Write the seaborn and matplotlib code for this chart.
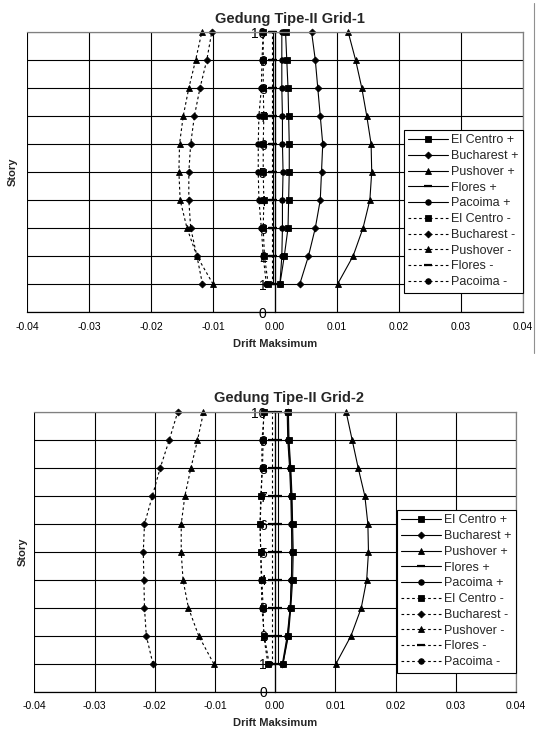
import matplotlib
matplotlib.use("Agg")
import matplotlib.pyplot as plt
from matplotlib.lines import Line2D
import numpy as np
import pandas as pd
import seaborn as sns

# ---------------- data ----------------
stories = [1, 2, 3, 4, 5, 6, 7, 8, 9, 10]
series_names = ["El Centro +", "Bucharest +", "Pushover +", "Flores +", "Pacoima +",
                "El Centro -", "Bucharest -", "Pushover -", "Flores -", "Pacoima -"]
titles = ["Gedung Tipe-II Grid-1", "Gedung Tipe-II Grid-2"]
x_label = "Drift Maksimum"
y_label = "Story"
x_ticks = [-0.04, -0.03, -0.02, -0.01, 0.0, 0.01, 0.02, 0.03, 0.04]
x_tick_labels = ["-0.04", "-0.03", "-0.02", "-0.01", "0.00", "0.01", "0.02", "0.03", "0.04"]
y_ticks = [0, 1, 2, 3, 4, 5, 6, 7, 8, 9, 10]

# Grid-1 (stories 1..10)
g1_elcentro_pos = [0.0008, 0.0015, 0.0021, 0.0022, 0.0023, 0.0023, 0.0022, 0.0021, 0.0019, 0.0017]
g1_bucharest_pos = [0.0040, 0.0054, 0.0065, 0.0073, 0.0075, 0.0077, 0.0073, 0.0069, 0.0065, 0.0059]
g1_pushover_pos = [0.0101, 0.0126, 0.0142, 0.0153, 0.0156, 0.0155, 0.0148, 0.0140, 0.0130, 0.0118]
g1_flores_pos = [-0.0003, -0.0003, -0.0003, -0.0003, -0.0003, -0.0003, -0.0003, -0.0003, -0.0003, -0.0003]
g1_pacoima_pos = [0.0008, 0.0011, 0.0012, 0.0012, 0.0013, 0.0012, 0.0012, 0.0011, 0.0011, 0.0011]
g1_elcentro_neg = [-0.0011, -0.0017, -0.0019, -0.0018, -0.0019, -0.0019, -0.0018, -0.0019, -0.0019, -0.0019]
g1_bucharest_neg = [-0.0117, -0.0126, -0.0136, -0.0139, -0.0139, -0.0136, -0.0130, -0.0121, -0.0110, -0.0102]
g1_pushover_neg = [-0.0100, -0.0126, -0.0142, -0.0153, -0.0155, -0.0154, -0.0148, -0.0139, -0.0128, -0.0118]
g1_flores_neg = [-0.0005, -0.0005, -0.0005, -0.0005, -0.0005, -0.0005, -0.0005, -0.0005, -0.0005, -0.0005]
g1_pacoima_neg = [-0.0014, -0.0019, -0.0022, -0.0026, -0.0027, -0.0027, -0.0026, -0.0022, -0.0021, -0.0019]

# Grid-2 (stories 1..10)
g2_elcentro_pos = [0.0013, 0.0022, 0.0026, 0.0029, 0.0030, 0.0029, 0.0028, 0.0026, 0.0023, 0.0022]
g2_bucharest_pos = [0.0012, 0.0020, 0.0025, 0.0027, 0.0028, 0.0028, 0.0027, 0.0025, 0.0022, 0.0021]
g2_pushover_pos = [0.0101, 0.0126, 0.0143, 0.0152, 0.0155, 0.0154, 0.0149, 0.0138, 0.0128, 0.0118]
g2_flores_pos = [0.0004, 0.0004, 0.0004, 0.0004, 0.0004, 0.0004, 0.0004, 0.0004, 0.0004, 0.0004]
g2_pacoima_pos = [0.0013, 0.0021, 0.0025, 0.0027, 0.0028, 0.0027, 0.0026, 0.0024, 0.0021, 0.0020]
g2_elcentro_neg = [-0.0012, -0.0019, -0.0020, -0.0022, -0.0024, -0.0025, -0.0024, -0.0021, -0.0020, -0.0019]
g2_bucharest_neg = [-0.0203, -0.0214, -0.0217, -0.0218, -0.0219, -0.0217, -0.0204, -0.0191, -0.0176, -0.0162]
g2_pushover_neg = [-0.0102, -0.0127, -0.0144, -0.0153, -0.0156, -0.0156, -0.0150, -0.0140, -0.0129, -0.0119]
g2_flores_neg = [-0.0006, -0.0006, -0.0006, -0.0006, -0.0006, -0.0006, -0.0006, -0.0006, -0.0006, -0.0006]
g2_pacoima_neg = [-0.0010, -0.0018, -0.0022, -0.0023, -0.0024, -0.0025, -0.0023, -0.0022, -0.0022, -0.0018]

grid1 = [g1_elcentro_pos, g1_bucharest_pos, g1_pushover_pos, g1_flores_pos, g1_pacoima_pos,
         g1_elcentro_neg, g1_bucharest_neg, g1_pushover_neg, g1_flores_neg, g1_pacoima_neg]
grid2 = [g2_elcentro_pos, g2_bucharest_pos, g2_pushover_pos, g2_flores_pos, g2_pacoima_pos,
         g2_elcentro_neg, g2_bucharest_neg, g2_pushover_neg, g2_flores_neg, g2_pacoima_neg]

# ---------------- style ----------------
sns.set_style("white")
plt.rcParams["font.family"] = ["Liberation Sans", "DejaVu Sans"]

marker_for = {"El Centro": ("s", 3.8), "Bucharest": ("D", 3.5), "Pushover": ("^", 4.5),
              "Flores": ("_", 5.5), "Pacoima": ("o", 4.0)}
neg_dash = (0, (2.4, 2.4))
LW = 0.8

W, H = 539, 729
fig = plt.figure(figsize=(W / 100, H / 100), dpi=100)

# axes placement in pixels: (left, right, top, bottom)
panels = [(27, 523, 32, 312), (34.3, 516, 412.3, 691.7)]
title_pos = [(290, 18.5), (289, 398)]
ylabel_x = [18, 28]

for k, (vals, title) in enumerate(zip([grid1, grid2], titles)):
    l, r, t, b = panels[k]
    ax = fig.add_axes([l / W, 1 - b / H, (r - l) / W, (b - t) / H])
    ax.set_axisbelow(True)
    handles = []
    for name, xs in zip(series_names, vals):
        base = name[:-2]
        mk, ms = marker_for[base]
        ls = "-" if name.endswith("+") else neg_dash
        mew = 0.6 if mk != "_" else 1.6
        df = pd.DataFrame({"drift": xs, "story": stories})
        sns.lineplot(data=df, x="drift", y="story", sort=False, estimator=None,
                     color="black", linewidth=LW, linestyle=ls, marker=mk,
                     markersize=ms, markeredgecolor="black", markerfacecolor="black",
                     markeredgewidth=mew, clip_on=False, ax=ax, legend=False)
        handles.append(Line2D([], [], color="black", linewidth=LW, linestyle=ls,
                              marker=mk, markersize=ms, markerfacecolor="black",
                              markeredgecolor="black", markeredgewidth=mew, label=name))

    ax.set_xlim(-0.04, 0.04)
    ax.set_ylim(0, 10)
    ax.set_xticks(x_ticks)
    ax.set_xticklabels(x_tick_labels, fontsize=7.5)
    ax.set_yticks(y_ticks)
    ax.set_yticklabels([str(v) for v in y_ticks], fontsize=7.5)
    ax.grid(True, color="black", linewidth=0.8)

    ax.spines["left"].set_position(("data", 0))
    ax.spines["left"].set_color("black")
    ax.spines["left"].set_linewidth(0.9)
    ax.spines["bottom"].set_color("black")
    ax.spines["bottom"].set_linewidth(0.9)
    for s in ("top", "right"):
        ax.spines[s].set_color("#808080")
        ax.spines[s].set_linewidth(0.9)

    ax.tick_params(axis="x", direction="inout", length=6, width=0.8, pad=4, colors="black")
    ax.tick_params(axis="y", direction="out", length=5, width=0.8, pad=1, colors="black")

    ax.set_xlabel(x_label, fontsize=8, fontweight="bold", labelpad=5)
    ax.set_ylabel(y_label, fontsize=8, fontweight="bold")
    ax.yaxis.set_label_coords((ylabel_x[k] - l) / (r - l), 0.5)

    leg = ax.legend(handles=handles, loc="upper right", bbox_to_anchor=(1.0, 0.65),
                    borderaxespad=0, fontsize=9, frameon=True, fancybox=False,
                    edgecolor="black", framealpha=1, handlelength=3.2,
                    handletextpad=0.25, labelspacing=0.3, borderpad=0.35)
    leg.get_frame().set_linewidth(0.8)

    tx, ty = title_pos[k]
    fig.text(tx / W, 1 - ty / H, title, ha="center", va="center",
             fontsize=10.5, fontweight="bold")

# thin border line on the right of the top chart
fig.add_artist(Line2D([534 / W, 534 / W], [1 - 3 / H, 1 - 353 / H],
                      transform=fig.transFigure, color="#909090", linewidth=0.8))

fig.savefig("out.png", dpi=100)
